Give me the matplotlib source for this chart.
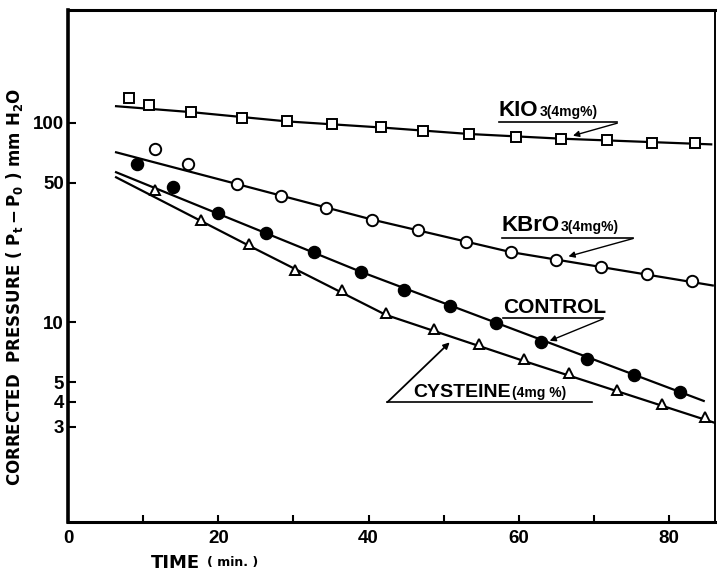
import matplotlib
matplotlib.use('Agg')
import matplotlib.pyplot as plt
from matplotlib.ticker import NullLocator
from matplotlib.offsetbox import TextArea, HPacker, AnnotationBbox

# corrected pressure (mm H2O) against time (min)
kio3_t = [8.1, 10.8, 16.4, 23.2, 29.2, 35.2, 41.6, 47.2, 53.4, 59.6, 65.6, 71.7, 77.7, 83.5]
kio3_p = [133, 122, 113, 106, 101.5, 98.5, 94.7, 90.5, 87.8, 84.8, 83.2, 81.6, 79.4, 78.8]
kio3_fit_t = [6.4, 16.4, 29.2, 41.6, 53.4, 65.6, 85.6]
kio3_fit_p = [121, 113, 101.5, 94.7, 87.8, 83.2, 77.9]

kbro3_t = [11.6, 16.0, 22.5, 28.4, 34.4, 40.5, 46.6, 53.0, 58.9, 65.0, 70.9, 77.1, 83.0]
kbro3_p = [73.9, 62.1, 49.3, 42.8, 37.4, 32.7, 28.9, 25.3, 22.5, 20.5, 18.9, 17.4, 16.2]
kbro3_fit_t = [6.4, 22.5, 40.5, 58.9, 85.8]
kbro3_fit_p = [71.1, 49.3, 32.7, 22.5, 15.3]

ctrl_t = [9.2, 14.0, 20.0, 26.4, 32.8, 39.0, 44.7, 50.9, 57.0, 63.0, 69.1, 75.3, 81.5]
ctrl_p = [62.1, 47.5, 35.3, 27.9, 22.6, 17.9, 14.5, 12.07, 9.89, 8.0, 6.58, 5.43, 4.48]
ctrl_fit_t = [6.4, 39.0, 84.6]
ctrl_fit_p = [56.5, 17.9, 4.04]

cys_t = [11.6, 17.7, 24.1, 30.2, 36.4, 42.3, 48.7, 54.7, 60.7, 66.7, 73.1, 79.0, 84.8]
cys_p = [46.2, 32.5, 24.8, 18.2, 14.5, 11.2, 9.3, 7.76, 6.53, 5.56, 4.59, 3.92, 3.34]
cys_fit_t = [6.4, 24.1, 42.3, 60.7, 86.4]
cys_fit_p = [53.3, 24.2, 10.9, 6.4, 3.11]

x_ticks = [0, 10, 20, 30, 40, 50, 60, 70, 80]
x_ticklabels = ['0', '', '20', '', '40', '', '60', '', '80']
y_ticks = [3, 4, 5, 10, 50, 100]
y_ticklabels = ['3', '4', '5', '10', '50', '100']

SANS = 'Liberation Sans'

fig = plt.figure(figsize=(7.17, 5.74), dpi=100)
ax = fig.add_axes([0.0948, 0.0906, 0.9024, 0.892])

line_kw = dict(color='black', lw=1.6, zorder=2)
ax.plot(kio3_fit_t, kio3_fit_p, **line_kw)
ax.plot(kbro3_fit_t, kbro3_fit_p, **line_kw)
ax.plot(ctrl_fit_t, ctrl_fit_p, **line_kw)
ax.plot(cys_fit_t, cys_fit_p, **line_kw)

ax.plot(kio3_t, kio3_p, 's', ms=6.5, mfc='white', mec='black', mew=1.4, zorder=3)
ax.plot(kbro3_t, kbro3_p, 'o', ms=8.2, mfc='white', mec='black', mew=1.4, zorder=3)
ax.plot(ctrl_t, ctrl_p, 'o', ms=8.7, mfc='black', mec='black', zorder=3)
ax.plot(cys_t, cys_p, '^', ms=7, mfc='white', mec='black', mew=1.4, zorder=3)

ax.set_yscale('log')
ax.set_xlim(0, 86.1)
ax.set_ylim(1, 367)
ax.set_xticks(x_ticks)
ax.set_xticklabels(x_ticklabels)
ax.set_yticks(y_ticks)
ax.set_yticklabels(y_ticklabels)
ax.yaxis.set_minor_locator(NullLocator())
ax.tick_params(axis='x', direction='in', length=5, width=1.5, pad=6)
ax.tick_params(axis='y', direction='in', length=6, width=1.5, pad=3)
for lab in ax.get_xticklabels() + ax.get_yticklabels():
    lab.set_family(SANS)
    lab.set_fontweight('bold')
    lab.set_fontsize(13.5)

ax.spines['left'].set_linewidth(2.6)
ax.spines['bottom'].set_linewidth(2.2)
ax.spines['top'].set_linewidth(2.2)
ax.spines['right'].set_linewidth(1.4)

ax.set_ylabel(r'CORRECTED  PRESSURE ( $\mathbf{P_t - P_0}$ ) mm H$_\mathbf{2}$O',
              fontsize=12, fontweight='bold')
ax.yaxis.set_label_coords(-0.066, 0.459)
ax.text(0.128, -0.080, 'TIME', transform=ax.transAxes, fontsize=13, fontweight='bold',
        ha='left', va='center')
ax.text(0.215, -0.080, '( min. )', transform=ax.transAxes, fontsize=9, fontweight='bold',
        ha='left', va='center')


def series_label(x, y, big, small, big_size, small_size):
    parts = [TextArea(big, textprops=dict(fontsize=big_size, family=SANS,
                                          fontweight='bold')),
             TextArea(small, textprops=dict(fontsize=small_size, family=SANS,
                                            fontweight='bold'))]
    box = HPacker(children=parts, align='baseline', pad=0, sep=1)
    ab = AnnotationBbox(box, (x, y), xycoords='data', box_alignment=(0, 0),
                        frameon=False, pad=0)
    ax.add_artist(ab)


arrow_kw = dict(arrowstyle='-|>', color='black', lw=1.0, mutation_scale=9,
                shrinkA=0, shrinkB=0)

series_label(57.3, 102.5, 'KIO', '3(4mg%)', 16, 10)
ax.plot([57.3, 73.1], [101.2, 101.2], color='black', lw=1.2)
ax.annotate('', xy=(67.2, 86.1), xytext=(73.1, 99.5), arrowprops=arrow_kw)

series_label(57.7, 27.0, 'KBrO', '3(4mg%)', 16, 10)
ax.plot([57.7, 75.2], [26.6, 26.6], color='black', lw=1.2)
ax.annotate('', xy=(66.6, 21.4), xytext=(75.2, 26.3), arrowprops=arrow_kw)

series_label(57.9, 10.6, 'CONTROL', '', 15, 10)
ax.plot([57.9, 71.2], [10.47, 10.47], color='black', lw=1.2)
ax.annotate('', xy=(64.1, 8.08), xytext=(71.2, 10.4), arrowprops=arrow_kw)

series_label(45.9, 4.03, 'CYSTEINE', '(4mg %)', 14, 10)
ax.plot([42.5, 69.7], [3.98, 3.98], color='black', lw=1.2)
ax.annotate('', xy=(50.8, 7.94), xytext=(42.5, 3.98),
            arrowprops=dict(arrow_kw, lw=1.3))

fig.savefig('out.png', dpi=100)
